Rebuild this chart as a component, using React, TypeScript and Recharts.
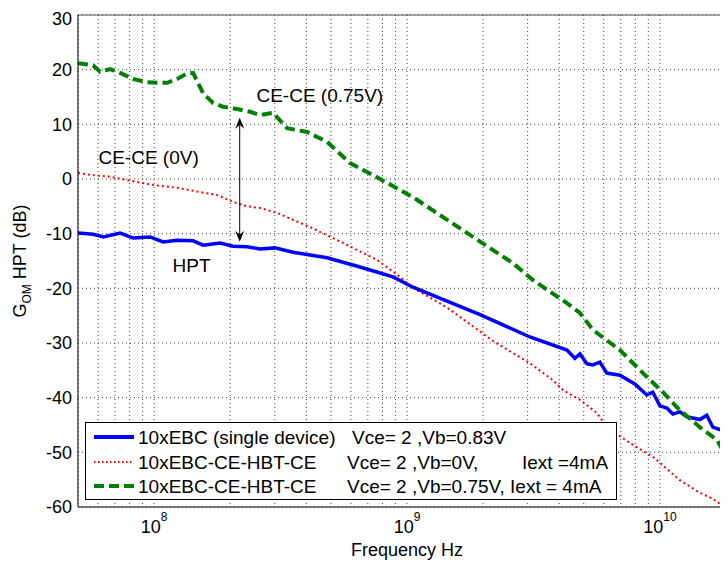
import React from "react";
import {
  LineChart, Line, XAxis, YAxis, CartesianGrid, ReferenceLine, ReferenceDot,
} from "recharts";

// frequencies (Hz) and gain (dB)
const blueFreq = [5.0e7, 5.74e7, 6.3e7, 7.34e7, 8.26e7, 9.64e7, 1.085e8, 1.233e8, 1.426e8, 1.562e8, 1.824e8, 2.053e8, 2.33e8, 2.624e8, 3.0e8, 3.543e8, 4.83e8, 6.52e8, 8.8e8, 1.056e9, 1.944e9, 3.063e9, 4.29e9, 4.61e9, 4.83e9, 5.14e9, 5.435e9, 5.79e9, 6.17e9, 6.95e9, 7.96e9, 8.88e9, 9.38e9, 1.0e10, 1.066e10, 1.125e10, 1.2e10, 1.279e10, 1.439e10, 1.533e10, 1.62e10, 1.84e10, 2.0e10];
const blueGain = [-9.9, -10.1, -10.6, -9.9, -10.8, -10.6, -11.5, -11.2, -11.3, -12.1, -11.7, -12.3, -12.4, -12.8, -12.6, -13.4, -14.4, -16.1, -17.9, -19.8, -24.8, -28.9, -31.3, -32.8, -32.0, -33.8, -34.0, -33.5, -35.5, -35.9, -37.5, -39.5, -39.0, -41.5, -41.9, -43.0, -42.6, -43.5, -44.0, -43.2, -45.4, -46.3, -46.9];

const redFreq = [5.0e7, 5.74e7, 6.7e7, 7.82e7, 9.9e7, 1.233e8, 1.52e8, 1.774e8, 2.053e8, 2.33e8, 2.624e8, 3.063e8, 4.136e8, 5.585e8, 7.61e8, 9.38e8, 1.056e9, 1.439e9, 2.2e9, 3.063e9, 3.776e9, 4.136e9, 4.83e9, 5.64e9, 6.17e9, 7.61e9, 9.38e9, 1.2e10, 1.439e10, 1.62e10, 1.74e10, 1.84e10, 2.0e10];
const redGain = [1.1, 0.7, 0.4, -0.2, -1.1, -1.6, -2.4, -2.9, -4.2, -5.0, -5.3, -6.2, -8.8, -11.7, -14.8, -17.9, -19.9, -23.5, -29.7, -33.7, -36.8, -38.6, -40.4, -42.8, -45.4, -48.3, -50.8, -55.1, -57.4, -58.5, -59.5, -57.0, -56.0];

const greenFreq = [5.0e7, 5.74e7, 6.12e7, 6.7e7, 7.34e7, 8.26e7, 9.38e7, 1.03e8, 1.126e8, 1.233e8, 1.362e8, 1.426e8, 1.562e8, 1.711e8, 1.874e8, 2.129e8, 2.395e8, 2.624e8, 2.953e8, 3.356e8, 4.025e8, 4.83e8, 5.95e8, 7.34e8, 9.38e8, 1.095e9, 1.824e9, 2.624e9, 3.148e9, 4.29e9, 4.83e9, 5.435e9, 6.95e9, 8.88e9, 1.028e10, 1.2e10, 1.439e10, 1.68e10, 1.774e10, 2.0e10];
const greenGain = [21.2, 20.8, 19.6, 20.1, 19.4, 18.3, 17.7, 17.6, 17.6, 18.3, 19.4, 19.4, 15.7, 13.9, 13.2, 12.8, 12.3, 11.7, 12.1, 9.3, 8.6, 6.8, 2.9, 0.7, -2.0, -3.8, -10.6, -15.4, -18.5, -22.7, -24.5, -27.6, -31.3, -36.2, -39.0, -42.3, -45.4, -47.7, -49.6, -51.0];

const xTicks = [6e7, 7e7, 8e7, 9e7, 1e8, 2e8, 3e8, 4e8, 5e8, 6e8, 7e8, 8e8, 9e8, 1e9, 2e9, 3e9, 4e9, 5e9, 6e9, 7e9, 8e9, 9e9, 1e10];
const yTicks = [-60, -50, -40, -30, -20, -10, 0, 10, 20, 30];

const legendRows = [
  { name: "10xEBC (single device)", cond: "Vce= 2 ,Vb=0.83V", iext: "" },
  { name: "10xEBC-CE-HBT-CE", cond: "Vce= 2 ,Vb=0V,", iext: "Iext =4mA" },
  { name: "10xEBC-CE-HBT-CE", cond: "Vce= 2 ,Vb=0.75V, Iext = 4mA", iext: "" },
];

const annotations = [
  { f: 4.52e8, g: 15.4, text: "CE-CE (0.75V)" },
  { f: 9.51e7, g: 4.0, text: "CE-CE (0V)" },
  { f: 1.406e8, g: -15.7, text: "HPT" },
];
const arrowFreq = 2.18e8;
const arrowTop = 11.2;
const arrowBottom = -11.5;

const toPoints = (fs: number[], gs: number[]) => fs.map((f, i) => ({ f, g: gs[i] }));
const blueData = toPoints(blueFreq, blueGain);
const redData = toPoints(redFreq, redGain);
const greenData = toPoints(greenFreq, greenGain);

const font = "'Liberation Sans', Arial, sans-serif";

function XTick(props: any) {
  const { x, y, payload } = props;
  const exp = Math.log10(payload.value);
  if (Math.abs(exp - Math.round(exp)) > 1e-6) return null;
  return (
    <text x={x} y={y + 18} textAnchor="middle" fontSize={18} fill="#000" fontFamily={font}>
      <tspan>10</tspan>
      <tspan dy={-12} fontSize={12}>{Math.round(exp)}</tspan>
    </text>
  );
}

function YLabel(props: any) {
  const vb = props.viewBox || {};
  const cy = (vb.y || 0) + (vb.height || 0) / 2;
  return (
    <text transform={`translate(18, ${cy}) rotate(-90)`} textAnchor="middle" fontSize={18} fill="#000" fontFamily={font}>
      <tspan>G</tspan>
      <tspan dy={5} fontSize={12}>OM</tspan>
      <tspan dy={-5}> HPT (dB)</tspan>
    </text>
  );
}

function Arrow(props: any) {
  const { x1, y1, y2 } = props;
  const top = Math.min(y1, y2);
  const bot = Math.max(y1, y2);
  const hw = 4.5, len = 11, notch = 7;
  return (
    <g>
      <line x1={x1} y1={top + 2} x2={x1} y2={bot - 2} stroke="#000" strokeWidth={1} />
      <polygon points={`${x1},${top} ${x1 - hw},${top + len} ${x1},${top + notch} ${x1 + hw},${top + len}`} fill="#000" />
      <polygon points={`${x1},${bot} ${x1 - hw},${bot - len} ${x1},${bot - notch} ${x1 + hw},${bot - len}`} fill="#000" />
    </g>
  );
}

function LegendSample({ color, width, dash }: { color: string; width: number; dash?: string }) {
  return (
    <svg width={42} height={10} style={{ display: "block" }}>
      <line x1={1} y1={5} x2={41} y2={5} stroke={color} strokeWidth={width} strokeDasharray={dash} />
    </svg>
  );
}

export default function App() {
  const samples = [
    <LegendSample color="#0000ff" width={4} />,
    <LegendSample color="#ff0000" width={2} dash="1.5 2.5" />,
    <LegendSample color="#008000" width={4} dash="10 5" />,
  ];
  const rowTops = [15, 40, 64];
  return (
    <div style={{ position: "relative", width: 720, height: 555, overflow: "hidden", fontFamily: font }}>
      <LineChart width={730} height={555} margin={{ top: 7, right: 2, bottom: 0, left: 0 }}>
        <CartesianGrid stroke="#444" strokeDasharray="1 3" />
        <XAxis
          dataKey="f" type="number" scale="log" domain={[5e7, 2e10]} allowDataOverflow
          ticks={xTicks} interval={0} tick={<XTick />} tickLine={false}
          axisLine={{ stroke: "#000" }} height={56}
          label={{ value: "Frequency Hz", position: "insideBottom", offset: 7, fontSize: 18, fill: "#000" }}
        />
        <YAxis
          dataKey="g" type="number" domain={[-60, 30]} ticks={yTicks} width={70}
          tickLine={false} tickSize={4} axisLine={{ stroke: "#000" }}
          tick={{ fontSize: 18, fill: "#000", fontFamily: font }}
          label={<YLabel />}
        />
        <ReferenceLine y={30} stroke="#555" />
        <Line data={redData} dataKey="g" type="linear" stroke="#ff0000" strokeWidth={2} strokeDasharray="2 3" dot={false} isAnimationActive={false} />
        <Line data={blueData} dataKey="g" type="linear" stroke="#0000ff" strokeWidth={3.5} dot={false} isAnimationActive={false} />
        <Line data={greenData} dataKey="g" type="linear" stroke="#008000" strokeWidth={4} strokeDasharray="10 5" dot={false} isAnimationActive={false} />
        <ReferenceLine
          segment={[{ x: arrowFreq, y: arrowTop }, { x: arrowFreq, y: arrowBottom }]}
          shape={<Arrow />}
        />
        {annotations.map((a) => (
          <ReferenceDot key={a.text} x={a.f} y={a.g} r={0} fill="none" stroke="none"
            label={{ value: a.text, position: "center", fontSize: 19, fill: "#000", fontFamily: font }} />
        ))}
      </LineChart>
      <div style={{
        position: "absolute", left: 77, top: 414, width: 532, height: 78, boxSizing: "border-box",
        border: "1px solid #000", background: "#fff", fontSize: 19, color: "#000",
      }}>
        {legendRows.map((r, i) => (
          <React.Fragment key={i}>
            <div style={{ position: "absolute", left: 7, top: rowTops[i] - 6 }}>{samples[i]}</div>
            <div style={{ position: "absolute", left: 52, top: rowTops[i] - 11, lineHeight: "22px", whiteSpace: "pre" }}>{r.name}</div>
            <div style={{ position: "absolute", left: i === 0 ? 266 : 261, top: rowTops[i] - 11, lineHeight: "22px", whiteSpace: "pre" }}>{r.cond}</div>
            {r.iext && <div style={{ position: "absolute", left: 436, top: rowTops[i] - 11, lineHeight: "22px", whiteSpace: "pre" }}>{r.iext}</div>}
          </React.Fragment>
        ))}
      </div>
    </div>
  );
}
